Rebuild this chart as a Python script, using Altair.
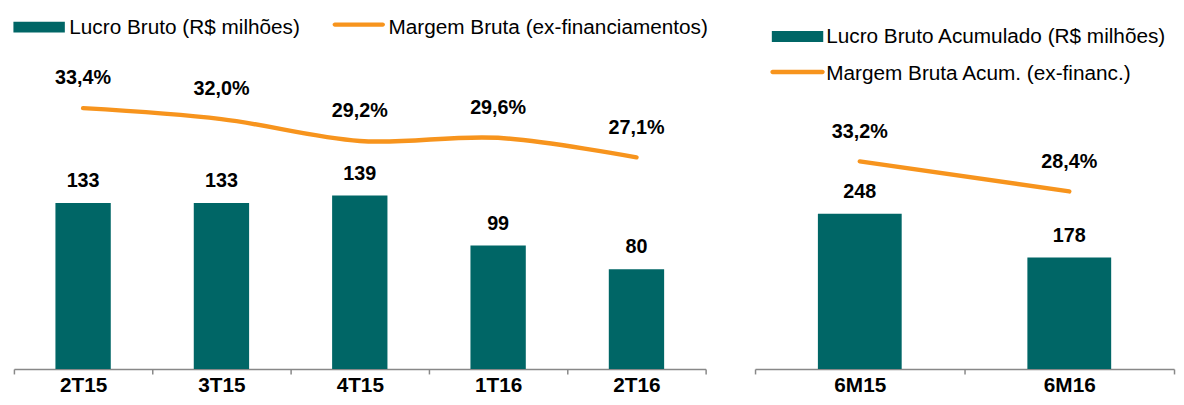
import altair as alt
import pandas as pd

# ---- data ----
left_cats = ["2T15", "3T15", "4T15", "1T16", "2T16"]
left_lucro = [133, 133, 139, 99, 80]
left_margem = [33.4, 32.0, 29.2, 29.6, 27.1]

right_cats = ["6M15", "6M16"]
right_lucro = [248, 178]
right_margem = [33.2, 28.4]

left_bar_name = "Lucro Bruto (R$ milhões)"
left_line_name = "Margem Bruta (ex-financiamentos)"
right_bar_name = "Lucro Bruto Acumulado (R$ milhões)"
right_line_name = "Margem Bruta Acum. (ex-financ.)"

TEAL = "#006666"
ORANGE = "#F7941D"
FONT = "Liberation Sans"

# legend symbol shapes (scaled by sqrt(121)/2 = 5.5 px per unit)
BAR_PATH = "M-4.73,-1.18H4.73V0.82H-4.73Z"


def line_path(half, yoff):
    r = 0.41
    a = half - r
    return (f"M{-a},{yoff - r}H{a}A{r},{r} 0 0 1 {a},{yoff + r}"
            f"H{-a}A{r},{r} 0 0 1 {-a},{yoff - r}Z")


def pct(v):
    return f"{v:.1f}%".replace(".", ",")


def panel(cats, lucro, margem, bar_name, line_name, width, bar_max, m_max,
          interp, leg_bar, leg_line, lpath):
    df = pd.DataFrame({
        "cat": cats,
        "lucro": lucro,
        "margem": margem,
        "mlabel": [pct(v) for v in margem],
        "bserie": [bar_name] * len(cats),
        "lserie": [line_name] * len(cats),
    })
    x = alt.X("cat:N", sort=cats, title=None,
              scale=alt.Scale(paddingInner=0, paddingOuter=0),
              axis=alt.Axis(labelAngle=0, labelFont=FONT, labelFontSize=21,
                            labelFontWeight="bold", labelColor="black",
                            labelPadding=1, tickBand="extent", tickSize=5,
                            tickColor="#888888", tickWidth=1.5,
                            domainColor="#888888", domainWidth=1.5,
                            grid=False))
    yb = alt.Y("lucro:Q", scale=alt.Scale(domain=[0, bar_max]), axis=None)
    ym = alt.Y("margem:Q", scale=alt.Scale(domain=[0, m_max]), axis=None)

    bars = alt.Chart(df).mark_bar(width=alt.RelativeBandSize(0.4)).encode(
        x=x, y=yb,
        fill=alt.Fill("bserie:N",
                      scale=alt.Scale(domain=[bar_name], range=[TEAL]),
                      legend=alt.Legend(title=None, orient="none",
                                        legendX=leg_bar[0], legendY=leg_bar[1],
                                        symbolType=BAR_PATH, symbolSize=121,
                                        symbolStrokeWidth=0,
                                        labelOffset=leg_bar[2], labelFont=FONT,
                                        labelFontSize=21, labelColor="black",
                                        labelLimit=0, padding=0)),
    )
    bar_text = alt.Chart(df).mark_text(font=FONT, fontSize=20, fontWeight="bold",
                                       baseline="middle", dy=-22,
                                       color="black").encode(
        x=x, y=yb, text="lucro:Q")

    line = alt.Chart(df).mark_line(strokeWidth=4.5, strokeCap="round",
                                   interpolate=interp).encode(
        x=x, y=ym,
        stroke=alt.Stroke("lserie:N",
                          scale=alt.Scale(domain=[line_name], range=[ORANGE]),
                          legend=alt.Legend(title=None, orient="none",
                                            legendX=leg_line[0], legendY=leg_line[1],
                                            symbolType=lpath, symbolSize=121,
                                            symbolStrokeWidth=0,
                                            symbolFillColor=ORANGE,
                                            labelOffset=leg_line[2], labelFont=FONT,
                                            labelFontSize=21, labelColor="black",
                                            labelLimit=0, padding=0)),
    )
    line_text = alt.Chart(df).mark_text(font=FONT, fontSize=20, fontWeight="bold",
                                        baseline="middle", dy=-30,
                                        color="black").encode(
        x=x, y=ym, text="mlabel:N")

    bar_layer = alt.layer(bars, bar_text)
    line_layer = alt.layer(line, line_text)
    return alt.layer(bar_layer, line_layer).resolve_scale(y="independent").properties(
        width=width, height=362)


left = panel(left_cats, left_lucro, left_margem, left_bar_name, left_line_name,
             700, 286.6, 45.8, "catmull-rom",
             (15, 6.5, 20), (338.5, 6.5, 19.5), line_path(4.82, -0.64))
right = panel(right_cats, right_lucro, right_margem, right_bar_name, right_line_name,
              424, 571, 57.2, "linear",
              (32.5, 16, 18.5), (32.5, 53, 18.5), line_path(5.0, -0.36))

chart = alt.hconcat(left, right, spacing=45).resolve_scale(
    fill="independent", stroke="independent"
).properties(
    padding={"left": 4, "top": 0, "right": 0, "bottom": 0}
).configure_view(stroke="transparent")

chart.save("out.html", embed_options={"renderer": "svg", "actions": False})
